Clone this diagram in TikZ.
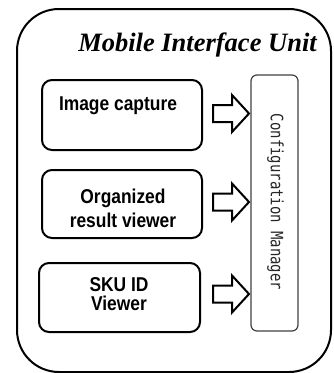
\documentclass[tikz,border=0pt]{standalone}
\usepackage{fontspec}
\setmainfont{Liberation Serif}
\newfontfamily\boxfont[FakeStretch=0.87]{Liberation Sans}
\newfontfamily\cfgfont[FakeStretch=0.82]{DejaVu Sans Mono}
\begin{document}
\begin{tikzpicture}[x=1pt,y=-1pt,
  outerbox/.style={draw, line width=2pt, rounded corners=42pt},
  modbox/.style={draw, line width=2pt, rounded corners=10pt, minimum width=160pt, minimum height=70pt, inner sep=0pt},
  modtext/.style={anchor=base, inner sep=0pt, font=\boxfont\fontsize{20}{22}\selectfont\bfseries},
  cfgbox/.style={draw=black!75, line width=1.2pt, rounded corners=6pt, minimum width=47pt, minimum height=256pt, inner sep=0pt},
  blockarrow/.style={draw, line width=2pt, fill=white, line join=miter}]
\useasboundingbox (0,0) rectangle (333,373);
\draw[outerbox] (17,9) rectangle (331,372);
\node[anchor=base, inner sep=0pt, font=\fontsize{26.5}{30}\selectfont\bfseries\itshape] (title) at (197.5,51) {Mobile Interface Unit};
% modules
\node[modbox, minimum height=70pt] (m1) at (122,115) {};
\node[modbox, minimum height=68pt] (m2) at (122,204) {};
\node[modbox, minimum width=161pt, minimum height=69pt] (m3) at (119.5,297.5) {};
\node[modtext] (t1) at (118,110) {Image capture};
\node[modtext] (t2a) at (123,203) {Organized};
\node[modtext] (t2b) at (123,227) {result viewer};
\node[modtext] (t3a) at (119,291) {SKU ID};
\node[modtext] (t3b) at (119,310) {Viewer};
% configuration manager
\node[cfgbox] (cfg) at (274.5,203) {};
\node[rotate=-90, inner sep=0pt, text=black!85, font=\cfgfont\fontsize{17}{19}\selectfont] (cfgtxt) at (275.5,202) {Configuration Manager};
% block arrows
\foreach \n/\y in {a1/113.5, a2/202, a3/294} {
  \coordinate (\n) at (249,\y);
  \draw[blockarrow] (\n) -- ++(-17,-18.5) -- ++(0,10) -- ++(-19,0) -- ++(0,17) -- ++(19,0) -- ++(0,10) -- cycle;
}
\end{tikzpicture}
\end{document}
